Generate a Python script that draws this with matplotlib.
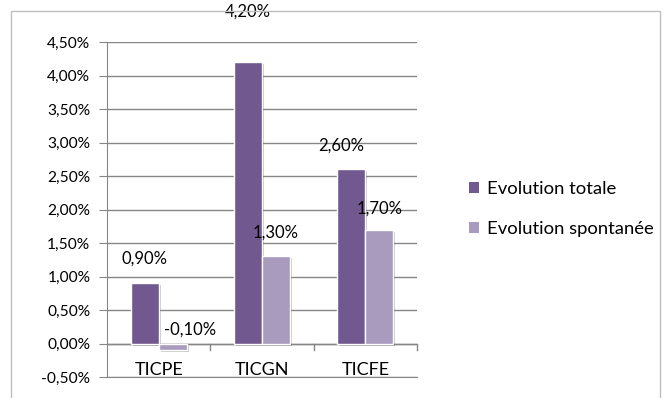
import matplotlib
matplotlib.use("Agg")
import matplotlib.pyplot as plt
import matplotlib.patheffects as pe
from matplotlib.patches import Rectangle
import numpy as np

categories = ["TICPE", "TICGN", "TICFE"]
evolution_totale = [0.90, 4.20, 2.60]
evolution_spontanee = [-0.10, 1.30, 1.70]
series_names = ["Evolution totale", "Evolution spontanée"]
y_ticks = [-0.5, 0.0, 0.5, 1.0, 1.5, 2.0, 2.5, 3.0, 3.5, 4.0, 4.5]

dark = "#71588F"
light = "#A99BBD"
grid_col = "#868686"

plt.rcParams["font.family"] = ["Lato", "DejaVu Sans"]

fig = plt.figure(figsize=(6.66, 3.98), dpi=100)
# outer chart frame
fig.patches.append(Rectangle((11 / 666, -0.05), 649 / 666, 1 - 11 / 398 + 0.05,
                             transform=fig.transFigure, fill=False,
                             edgecolor="#BFBFBF", linewidth=1.0))

ax = fig.add_axes([107 / 666, 1 - 377 / 398, 310 / 666, 335 / 398])

def fmt(v):
    return f"{v:.2f}%".replace(".", ",")

x = np.arange(len(categories))
w = 0.27
shadow = [pe.SimplePatchShadow(offset=(1.5, -1.5), shadow_rgbFace="#000000", alpha=0.22),
          pe.Normal()]
b1 = ax.bar(x - w / 2, evolution_totale, w, color=dark, edgecolor="white",
            linewidth=1.0, label=series_names[0], zorder=3)
b2 = ax.bar(x + w / 2, evolution_spontanee, w, color=light, edgecolor="white",
            linewidth=1.0, label=series_names[1], zorder=3)
for b in list(b1) + list(b2):
    b.set_path_effects(shadow)

# data labels (horizontal / vertical nudges in axis units)
dx_tot = [0.0, 0.0, -0.1]
dy_tot = [0.36, 0.75, 0.36]
dx_spo = [0.17, 0.0, 0.0]
dy_spo = [0.21, 0.36, 0.31]
lab_fs = 12
for xi, v, dx, dy in zip(x, evolution_totale, dx_tot, dy_tot):
    ax.text(xi - w / 2 + dx, v + dy, fmt(v), ha="center", va="center",
            fontsize=lab_fs, color="black", zorder=5)
for xi, v, dx, dy in zip(x, evolution_spontanee, dx_spo, dy_spo):
    ax.text(xi + w / 2 + dx, max(v, 0) + dy, fmt(v), ha="center", va="center",
            fontsize=lab_fs, color="black", zorder=5)

ax.set_xlim(-0.5, 2.5)
ax.set_ylim(-0.5, 4.5)
ax.set_yticks(y_ticks)
ax.set_yticklabels([fmt(t) for t in y_ticks], fontsize=11.2)
ax.set_xticks([])
ax.tick_params(axis="y", length=6, color=grid_col, pad=6)
ax.yaxis.grid(True, color=grid_col, linewidth=1.0, zorder=0)
ax.set_axisbelow(True)

for s in ["top", "right"]:
    ax.spines[s].set_visible(False)
ax.spines["left"].set_color(grid_col)
ax.spines["bottom"].set_color(grid_col)

# category axis at zero with separator ticks
ax.axhline(0, color=grid_col, linewidth=1.0, zorder=2)
for sep in [0.5, 1.5, 2.5]:
    ax.plot([sep, sep], [0, -0.1], color=grid_col, linewidth=1.0,
            clip_on=False, zorder=2)
for xi, c in zip(x, categories):
    ax.text(xi, -0.40, c, ha="center", va="center", fontsize=13, zorder=5)

leg = fig.legend(handles=[b1, b2], labels=series_names,
                 loc="center left", bbox_to_anchor=(452 / 666, 1 - 209 / 398),
                 frameon=False, fontsize=13.3, handlelength=0.55, handleheight=0.55,
                 handletextpad=0.45, labelspacing=1.3)
for h in leg.legend_handles:
    h.set_edgecolor("none")
    h.set_path_effects([])

fig.savefig("out.png", dpi=100)
